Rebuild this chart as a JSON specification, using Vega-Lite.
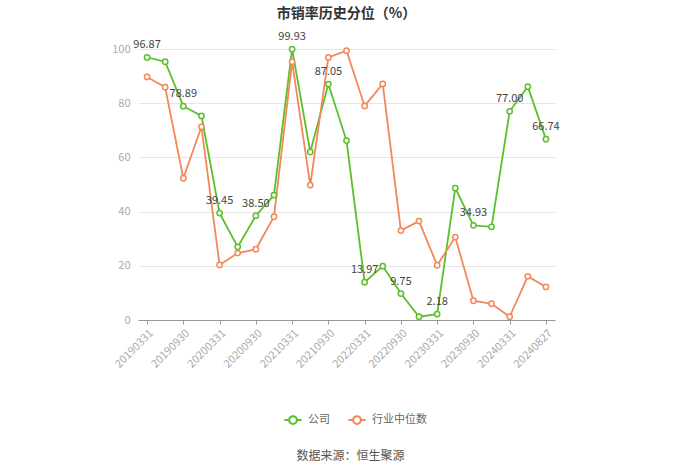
{
  "$schema": "https://vega.github.io/schema/vega-lite/v6.json",
  "width": 417,
  "height": 271,
  "autosize": {"type": "none"},
  "padding": {"left": 138, "top": 49, "right": 145, "bottom": 154},
  "background": "white",
  "config": {
    "font": "Noto Sans CJK SC",
    "view": {"stroke": null}
  },
  "title": {
    "text": "市销率历史分位（%）",
    "anchor": "middle",
    "fontSize": 14,
    "fontWeight": "bold",
    "color": "#333333",
    "font": "Noto Sans CJK SC",
    "dy": -6
  },
  "data": {
    "values": [
      {"date": "20190331", "series": "公司", "value": 96.87},
      {"date": "20190630", "series": "公司", "value": 95.3},
      {"date": "20190930", "series": "公司", "value": 78.89},
      {"date": "20191231", "series": "公司", "value": 75.3},
      {"date": "20200331", "series": "公司", "value": 39.45},
      {"date": "20200630", "series": "公司", "value": 27.0},
      {"date": "20200930", "series": "公司", "value": 38.5},
      {"date": "20201231", "series": "公司", "value": 46.1},
      {"date": "20210331", "series": "公司", "value": 99.93},
      {"date": "20210630", "series": "公司", "value": 62.0},
      {"date": "20210930", "series": "公司", "value": 87.05},
      {"date": "20211231", "series": "公司", "value": 66.2},
      {"date": "20220331", "series": "公司", "value": 13.97},
      {"date": "20220630", "series": "公司", "value": 19.9},
      {"date": "20220930", "series": "公司", "value": 9.75},
      {"date": "20221231", "series": "公司", "value": 1.2},
      {"date": "20230331", "series": "公司", "value": 2.18},
      {"date": "20230630", "series": "公司", "value": 48.7},
      {"date": "20230930", "series": "公司", "value": 34.93},
      {"date": "20231231", "series": "公司", "value": 34.4},
      {"date": "20240331", "series": "公司", "value": 77.0},
      {"date": "20240630", "series": "公司", "value": 86.1},
      {"date": "20240827", "series": "公司", "value": 66.74},
      {"date": "20190331", "series": "行业中位数", "value": 89.7},
      {"date": "20190630", "series": "行业中位数", "value": 85.9},
      {"date": "20190930", "series": "行业中位数", "value": 52.3},
      {"date": "20191231", "series": "行业中位数", "value": 71.3},
      {"date": "20200331", "series": "行业中位数", "value": 20.3},
      {"date": "20200630", "series": "行业中位数", "value": 24.7},
      {"date": "20200930", "series": "行业中位数", "value": 26.1},
      {"date": "20201231", "series": "行业中位数", "value": 38.1},
      {"date": "20210331", "series": "行业中位数", "value": 95.3},
      {"date": "20210630", "series": "行业中位数", "value": 49.8},
      {"date": "20210930", "series": "行业中位数", "value": 96.9},
      {"date": "20211231", "series": "行业中位数", "value": 99.4},
      {"date": "20220331", "series": "行业中位数", "value": 79.0},
      {"date": "20220630", "series": "行业中位数", "value": 87.1},
      {"date": "20220930", "series": "行业中位数", "value": 33.0},
      {"date": "20221231", "series": "行业中位数", "value": 36.5},
      {"date": "20230331", "series": "行业中位数", "value": 20.2},
      {"date": "20230630", "series": "行业中位数", "value": 30.6},
      {"date": "20230930", "series": "行业中位数", "value": 7.1},
      {"date": "20231231", "series": "行业中位数", "value": 6.0},
      {"date": "20240331", "series": "行业中位数", "value": 1.2},
      {"date": "20240630", "series": "行业中位数", "value": 16.1},
      {"date": "20240827", "series": "行业中位数", "value": 12.2}
    ]
  },
  "encoding": {
    "x": {
      "field": "date",
      "type": "ordinal",
      "sort": null,
      "scale": {"type": "point", "padding": 0.5},
      "axis": {
        "values": ["20190331", "20190930", "20200331", "20200930", "20210331", "20210930", "20220331", "20220930", "20230331", "20230930", "20240331", "20240827"],
        "labelAngle": -45,
        "labelColor": "#aaaaaa",
        "labelFontSize": 11,
        "labelPadding": 3,
        "domainColor": "#999999",
        "tickColor": "#999999",
        "tickSize": 4,
        "grid": false,
        "title": "数据来源：恒生聚源",
        "titleFontSize": 12,
        "titleFontWeight": "normal",
        "titleColor": "#555555",
        "titleX": 212,
        "titleY": 130
      }
    },
    "y": {
      "field": "value",
      "type": "quantitative",
      "scale": {"domain": [0, 100]},
      "axis": {
        "values": [0, 20, 40, 60, 80, 100],
        "title": null,
        "domain": false,
        "ticks": false,
        "labelColor": "#aaaaaa",
        "labelFontSize": 11,
        "labelPadding": 8,
        "gridColor": "#e6e6e6"
      }
    }
  },
  "layer": [
    {
      "mark": {
        "type": "line",
        "strokeWidth": 1.8,
        "point": {"filled": false, "fill": "white", "size": 28, "strokeWidth": 1.5}
      },
      "encoding": {
        "color": {
          "field": "series",
          "type": "nominal",
          "scale": {"domain": ["公司", "行业中位数"], "range": ["#5cbf2a", "#f4875a"]},
          "legend": {
            "title": null,
            "orient": "none",
            "direction": "horizontal",
            "legendX": 145,
            "legendY": 361,
            "labelColor": "#666666",
            "labelFontSize": 11,
            "symbolType": "M-1,0L-0.45,0M0.45,0A0.45,0.45 0 1,1 -0.45,0A0.45,0.45 0 1,1 0.45,0M0.45,0L1,0",
            "symbolSize": 300,
            "symbolStrokeWidth": 2,
            "symbolFillColor": "white",
            "columnPadding": 14,
            "labelOffset": 5
          }
        }
      }
    },
    {
      "transform": [
        {"filter": {"field": "series", "equal": "公司"}},
        {"filter": {"field": "date", "oneOf": ["20190331", "20190930", "20200331", "20200930", "20210331", "20210930", "20220331", "20220930", "20230331", "20230930", "20240331", "20240827"]}}
      ],
      "mark": {"type": "text", "dy": -12, "fontSize": 11, "color": "#444444"},
      "encoding": {
        "text": {"field": "value", "type": "quantitative", "format": ".2f"}
      }
    }
  ]
}
